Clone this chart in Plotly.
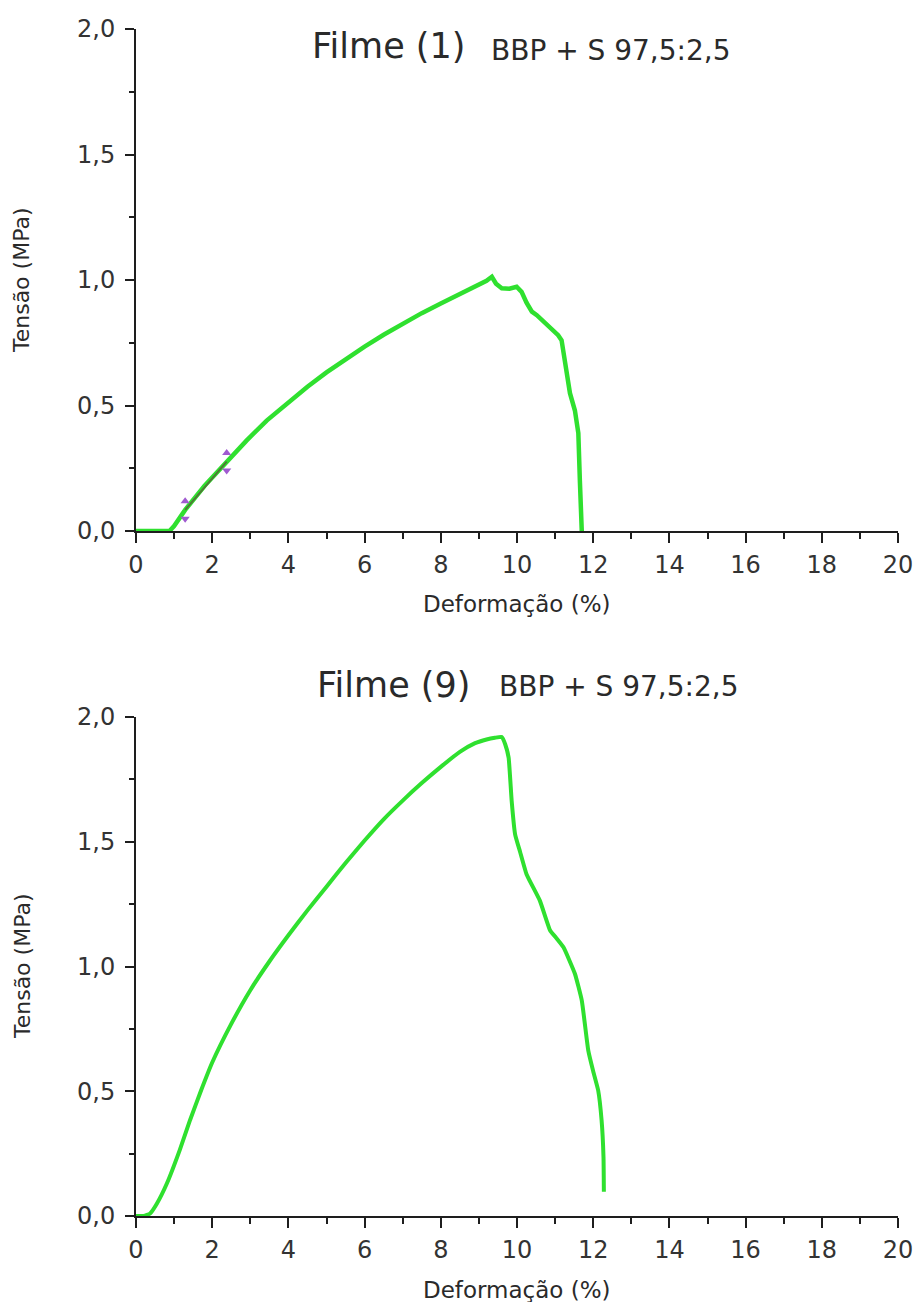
import plotly.graph_objects as go

# ---- data: Filme (1) ----
f1_strain = [0, 0.88, 1.0, 1.29, 1.8, 2.34, 2.9, 3.43, 4.0, 4.5, 5.0, 5.5, 6.0, 6.5, 7.0,
             7.5, 8.0, 8.5, 9.0, 9.2, 9.34, 9.45, 9.6, 9.8, 9.99, 10.12, 10.25, 10.39,
             10.52, 10.8, 11.08, 11.17, 11.25, 11.39, 11.52, 11.61, 11.65, 11.70]
f1_stress = [0, 0, 0.02, 0.084, 0.18, 0.27, 0.36, 0.44, 0.515, 0.575, 0.632, 0.685, 0.735,
             0.782, 0.826, 0.868, 0.906, 0.945, 0.98, 0.997, 1.013, 0.985, 0.967, 0.965,
             0.973, 0.953, 0.91, 0.874, 0.86, 0.82, 0.78, 0.76, 0.68, 0.549, 0.48, 0.39,
             0.2, 0.0]
# modulus-fit markers (Filme 1)
fit_strain = [1.29, 2.38]
fit_stress = [0.084, 0.276]

# ---- data: Filme (9) ----
f9_strain = [0, 0.2, 0.37, 0.55, 0.81, 1.15, 1.42, 1.7, 2.0, 2.5, 3.0, 3.5, 4.0,
             4.5, 5.0, 5.5, 6.0, 6.5, 7.0, 7.5, 8.0, 8.5, 8.9, 9.2, 9.42, 9.6, 9.69,
             9.78, 9.86, 9.95, 10.08, 10.25, 10.6, 10.87, 11.0, 11.22, 11.52, 11.7, 11.87,
             12.0, 12.13, 12.22, 12.27, 12.28]
f9_stress = [0, 0, 0.01, 0.05, 0.13, 0.265, 0.385, 0.50, 0.615, 0.77, 0.905, 1.02,
             1.125, 1.225, 1.32, 1.415, 1.505, 1.59, 1.665, 1.735, 1.80, 1.86, 1.895, 1.91,
             1.917, 1.92, 1.891, 1.837, 1.664, 1.53, 1.46, 1.37, 1.264, 1.144, 1.12, 1.077,
             0.971, 0.864, 0.664, 0.58, 0.504, 0.384, 0.237, 0.097]

titles_main = ["Filme (1)", "Filme (9)"]
title_sub = "BBP + S 97,5:2,5"
x_label = "Deformação (%)"
y_label = "Tensão (MPa)"

GREEN = "#2fe02f"
PURPLE = "#a05ad0"
AX = "#1e1e1e"
TXT = "#2a2a2a"
FONT = "DejaVu Sans"

fig = go.Figure()
fig.add_trace(go.Scatter(x=f1_strain, y=f1_stress, mode="lines",
                         line=dict(color=GREEN, width=4.5), xaxis="x", yaxis="y",
                         cliponaxis=False, showlegend=False))
fig.add_trace(go.Scatter(x=fit_strain, y=fit_stress, mode="lines",
                         line=dict(color="#4f7a35", width=2), xaxis="x", yaxis="y",
                         showlegend=False))
fig.add_trace(go.Scatter(x=fit_strain, y=[v + 0.035 for v in fit_stress], mode="markers",
                         marker=dict(symbol="triangle-up", size=8, color=PURPLE),
                         xaxis="x", yaxis="y", showlegend=False, cliponaxis=False))
fig.add_trace(go.Scatter(x=fit_strain, y=[v - 0.035 for v in fit_stress], mode="markers",
                         marker=dict(symbol="triangle-down", size=8, color=PURPLE),
                         xaxis="x", yaxis="y", showlegend=False, cliponaxis=False))
fig.add_trace(go.Scatter(x=f9_strain, y=f9_stress, mode="lines",
                         line=dict(color=GREEN, width=4, shape="spline", smoothing=0.4),
                         xaxis="x2", yaxis="y2", cliponaxis=False, showlegend=False))

W, H = 916, 1302
L, T = 136, 29
PW, PH = 762, 1187
R = W - L - PW
B = H - T - PH


def py(p):  # reference pixel y -> paper fraction
    return (H - B - p) / PH


def px(p):  # reference pixel x -> paper fraction
    return (p - L) / PW


xaxis_common = dict(range=[0, 20], dtick=2, tick0=0, ticks="outside", ticklen=10,
                    tickwidth=2, tickcolor=AX, showline=True, linecolor=AX, linewidth=2,
                    showgrid=False, zeroline=False, layer="below traces", automargin=False,
                    tickfont=dict(family=FONT, size=24, color="#333333"),
                    ticklabelstandoff=1, ticklabeloverflow="allow",
                    minor=dict(ticks="outside", ticklen=6, dtick=1, tickwidth=2,
                               tickcolor=AX, showgrid=False))
yaxis_common = dict(range=[0, 2], dtick=0.5, tick0=0, ticks="outside", ticklen=9,
                    tickwidth=2, tickcolor=AX, showline=True, linecolor=AX, linewidth=2,
                    showgrid=False, zeroline=False, layer="below traces", tickformat=".1f",
                    automargin=False,
                    tickfont=dict(family=FONT, size=24, color="#333333"),
                    ticklabelstandoff=5,
                    minor=dict(ticks="outside", ticklen=5, dtick=0.25, tickwidth=2,
                               tickcolor=AX, showgrid=False))

fig.update_layout(
    width=W, height=H,
    margin=dict(l=L, r=R, t=T, b=B),
    paper_bgcolor="white", plot_bgcolor="white",
    separators=",.",
    showlegend=False,
    xaxis=dict(domain=[0, 1], anchor="y", **xaxis_common),
    yaxis=dict(domain=[py(531), 1], anchor="x", **yaxis_common),
    xaxis2=dict(domain=[0, 1], anchor="y2", **xaxis_common),
    yaxis2=dict(domain=[0, py(717)], anchor="x2", **yaxis_common),
)

ann = []
for main, xl_main, xl_sub, yc_main, yc_sub in [
    (titles_main[0], 310, 489, 46, 50),
    (titles_main[1], 315, 497, 685, 686),
]:
    ann.append(dict(text=main, xref="paper", yref="paper", x=px(xl_main), y=py(yc_main),
                    xanchor="left", yanchor="middle", showarrow=False,
                    font=dict(family=FONT, size=35, color=TXT)))
    ann.append(dict(text=title_sub, xref="paper", yref="paper", x=px(xl_sub), y=py(yc_sub),
                    xanchor="left", yanchor="middle", showarrow=False,
                    font=dict(family=FONT, size=28, color=TXT)))
for yc in [604, 1290]:
    ann.append(dict(text=x_label, xref="paper", yref="paper", x=px(517), y=py(yc),
                    xanchor="center", yanchor="middle", showarrow=False,
                    font=dict(family=FONT, size=23, color=TXT)))
for yc in [280, 966]:
    ann.append(dict(text=y_label, xref="paper", yref="paper", x=px(22), y=py(yc),
                    xanchor="center", yanchor="middle", showarrow=False, textangle=-90,
                    font=dict(family=FONT, size=22, color=TXT)))
fig.update_layout(annotations=ann)

fig.write_html("out.html", config={"displayModeBar": False},
               post_script="document.body.style.margin='0';document.body.style.overflow='hidden';")
